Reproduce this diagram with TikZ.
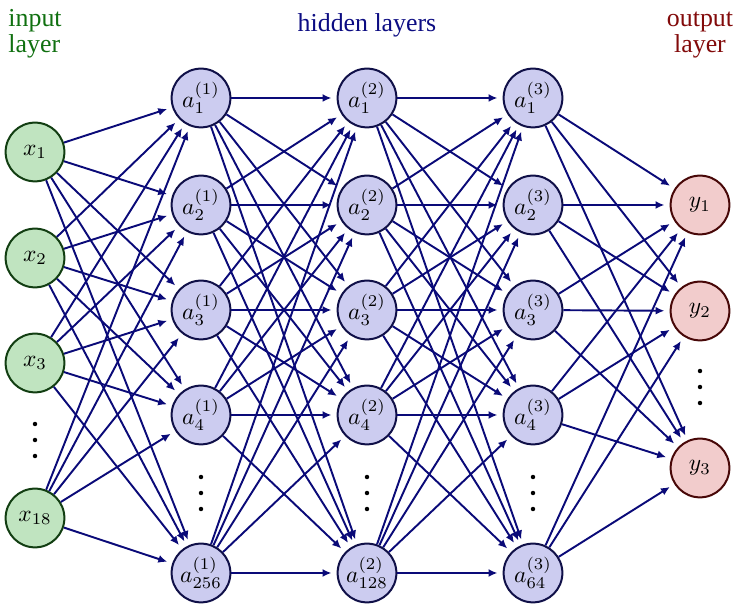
\documentclass[tikz,border=0pt]{standalone}
\usepackage{fontspec}
\setmainfont{Liberation Serif}
\usetikzlibrary{arrows.meta}

% colours of the three kinds of layers
\definecolor{infill}{RGB}{192,228,192}
\definecolor{inline}{RGB}{18,62,18}
\definecolor{hidfill}{RGB}{204,204,240}
\definecolor{hidline}{RGB}{16,16,72}
\definecolor{outfill}{RGB}{242,204,204}
\definecolor{outline}{RGB}{72,8,8}
\definecolor{connblue}{RGB}{10,10,120}
\definecolor{intext}{RGB}{16,112,16}
\definecolor{hidtext}{RGB}{12,12,130}
\definecolor{outtext}{RGB}{130,10,10}

\tikzset{
  neuron/.style={circle, minimum size=25pt, inner sep=0pt, line width=0.85pt},
  inneuron/.style={neuron, draw=inline, fill=infill},
  hidneuron/.style={neuron, draw=hidline, fill=hidfill},
  outneuron/.style={neuron, draw=outline, fill=outfill},
  conn/.style={draw=connblue, line width=0.82pt, shorten >=2.2pt,
    -{Latex[length=3.8pt,width=3.4pt]}},
  layerlabel/.style={anchor=base, font=\fontsize{11}{11.1}\selectfont, inner sep=0pt},
  gapdot/.style={fill=black}
}

\begin{document}
\begin{tikzpicture}[x=0.4255pt, y=-0.4255pt]
  \useasboundingbox (0,0) rectangle (737,606);

  % layer titles (two-line titles are placed by the baseline of their last line)
  \node[layerlabel, anchor=base west, align=left, text=intext] (tin) at (8,53) {input\\layer};
  \node[layerlabel, text=hidtext] (thid) at (367,32) {hidden layers};
  \node[layerlabel, align=center, text=outtext] (tout) at (700,53) {output\\layer};

  % input layer
  \node[inneuron] (i1) at (35,152) {$x_1$};
  \node[inneuron] (i2) at (35,258) {$x_2$};
  \node[inneuron] (i3) at (35,363) {$x_3$};
  \node[inneuron] (i4) at (35,518) {$x_{18}$};

  % hidden layers
  \foreach \l/\x/\n in {1/201/256, 2/367/128, 3/533/64} {
    \node[hidneuron] (h\l-1) at (\x,98)  {$a_1^{(\l)}$};
    \node[hidneuron] (h\l-2) at (\x,205) {$a_2^{(\l)}$};
    \node[hidneuron] (h\l-3) at (\x,310) {$a_3^{(\l)}$};
    \node[hidneuron] (h\l-4) at (\x,415) {$a_4^{(\l)}$};
    \node[hidneuron] (h\l-5) at (\x,573) {$a_{\n}^{(\l)}$};
  }

  % output layer
  \node[outneuron] (o1) at (700,205) {$y_1$};
  \node[outneuron] (o2) at (700,311) {$y_2$};
  \node[outneuron] (o3) at (700,468) {$y_3$};

  % ellipsis dots for the omitted neurons
  \foreach \x/\y in {35/424, 201/477, 367/477, 533/477, 700/371} {
    \fill[gapdot] (\x,\y) circle (0.95pt);
    \fill[gapdot] (\x,\y+16) circle (0.95pt);
    \fill[gapdot] (\x,\y+32) circle (0.95pt);
  }

  % input -> first hidden layer
  \foreach \i in {1,...,4}
    \foreach \j in {1,...,5}
      \draw[conn] (i\i) -- (h1-\j);

  % hidden -> hidden
  \foreach \l/\m in {1/2, 2/3}
    \foreach \i in {1,...,5}
      \foreach \j in {1,...,5}
        \draw[conn] (h\l-\i) -- (h\m-\j);

  % last hidden layer -> output
  \foreach \i in {1,...,5}
    \foreach \j in {1,...,3}
      \draw[conn] (h3-\i) -- (o\j);
\end{tikzpicture}
\end{document}
